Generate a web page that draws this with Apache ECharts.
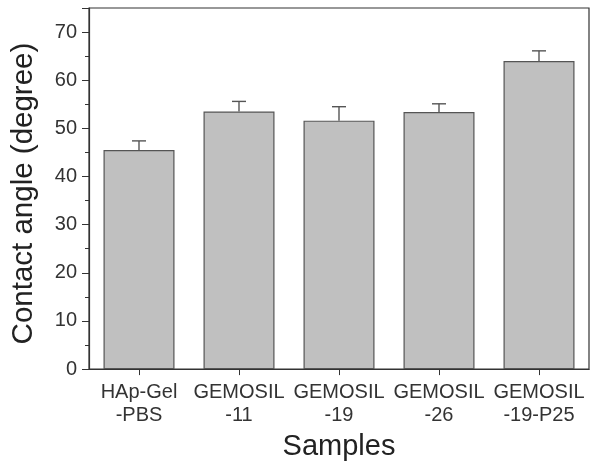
<!DOCTYPE html>
<html><head><meta charset="utf-8">
<script src="https://cdn.jsdelivr.net/npm/echarts@6/dist/echarts.min.js"></script>
<style>html,body{margin:0;padding:0;background:#fff}#c{width:601px;height:466px}</style>
</head><body><div id="c"></div>
<script>
const categories = ['HAp-Gel\n-PBS', 'GEMOSIL\n-11', 'GEMOSIL\n-19', 'GEMOSIL\n-26', 'GEMOSIL\n-19-P25'];
const values = [45.5, 53.5, 51.6, 53.4, 64.0];
const errors = [1.9, 2.1, 2.9, 1.7, 2.1];
const yTicks = [0, 10, 20, 30, 40, 50, 60, 70];

const font = 'Liberation Sans, Arial, sans-serif';
const chart = echarts.init(document.getElementById('c'), null, {renderer: 'canvas'});
chart.setOption({
  animation: false,
  grid: {left: 89, right: 12, top: 8, bottom: 91, show: true, borderColor: '#333', borderWidth: 1.2, backgroundColor: '#fff'},
  xAxis: {
    type: 'category', data: categories,
    name: 'Samples', nameLocation: 'middle', nameGap: 56,
    nameTextStyle: {fontFamily: font, fontSize: 29, color: '#222'},
    axisLine: {lineStyle: {color: '#333', width: 1.2}},
    axisTick: {show: true, alignWithLabel: true, length: 6, lineStyle: {color: '#333'}},
    axisLabel: {fontFamily: font, fontSize: 20, color: '#333', margin: 12, lineHeight: 23, interval: 0}
  },
  yAxis: {
    type: 'value', min: 0, max: 75, interval: 10,
    name: 'Contact angle (degree)', nameLocation: 'middle', nameGap: 50,
    nameTextStyle: {fontFamily: font, fontSize: 29.5, color: '#222', padding: [0, 10, 0, 0]},
    axisLine: {show: true, lineStyle: {color: '#333', width: 1.2}},
    axisTick: {show: true, length: 7, lineStyle: {color: '#333'}},
    minorTick: {show: true, splitNumber: 2, length: 4, lineStyle: {color: '#333'}},
    splitLine: {show: false},
    axisLabel: {fontFamily: font, fontSize: 20, color: '#333', margin: 12,
      formatter: v => yTicks.includes(v) ? String(v) : ''}
  },
  series: [
    {
      type: 'bar', data: values, barWidth: '71%',
      itemStyle: {color: '#c0c0c0', borderColor: '#555', borderWidth: 1.2},
      z: 2
    },
    {
      type: 'custom', z: 3,
      data: values.map((v, i) => [i, v, v + errors[i]]),
      renderItem: function (params, api) {
        const x = api.value(0);
        const lo = api.coord([x, api.value(1)]);
        const hi = api.coord([x, api.value(2)]);
        const hw = 7;
        return {
          type: 'group',
          children: [
            {type: 'line', shape: {x1: lo[0], y1: lo[1], x2: hi[0], y2: hi[1]}, style: {stroke: '#555', lineWidth: 1.4}},
            {type: 'line', shape: {x1: hi[0] - hw, y1: hi[1], x2: hi[0] + hw, y2: hi[1]}, style: {stroke: '#555', lineWidth: 1.4}}
          ]
        };
      }
    }
  ]
});
</script></body></html>
